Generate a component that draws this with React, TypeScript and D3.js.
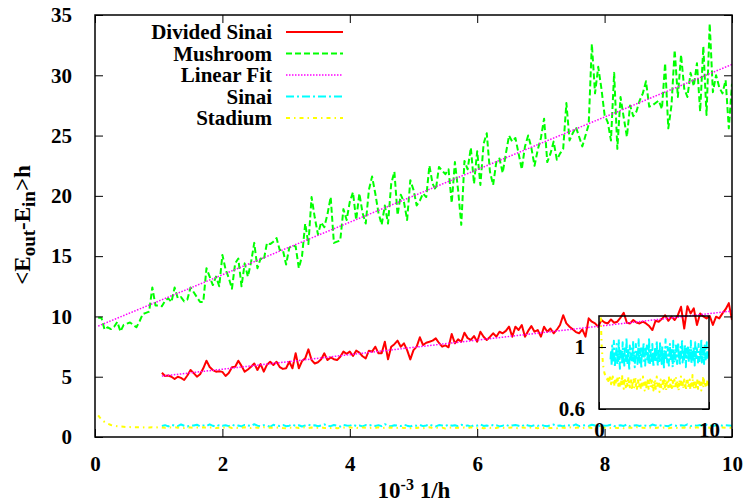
import React, { useEffect, useRef } from "react";
import * as d3 from "d3";

// all curves are sampled every 0.05 (10^-3 1/h)
const step = 0.05;

const mushroomStart = 0.05;
const mushroom = [
  9.9, 9.9, 8.9, 9.1, 8.95, 9.15, 9.55, 8.75, 9.3, 9.4,
  9.5, 9.3, 9.1, 9.6, 10.2, 10.3, 10.4, 12.4, 10.9, 10.9,
  10.85, 11.3, 11.5, 11.2, 12.4, 11.5, 11.6, 11.25, 11.4, 12.4,
  12.0, 11.6, 11.2, 11.2, 14.0, 13.3, 12.6, 13.3, 12.5, 15.1,
  13.9, 13.2, 12.3, 14.4, 14.8, 12.5, 14.4, 13.3, 14.5, 16.1,
  14.0, 14.8, 14.7, 16.1, 16.0, 16.2, 16.5, 15.5, 15.5, 14.3,
  15.7, 15.9, 15.8, 14.0, 15.0, 17.7, 16.0, 19.9,
  18.2, 16.8, 17.8, 17.4, 18.5, 19.9, 16.1, 16.2, 16.3, 18.9,
  18.0, 19.5, 20.3, 18.0, 20.2, 18.6, 17.7, 20.5, 21.6, 20.2,
  18.6, 17.6, 19.2, 17.7, 21.0, 22.0, 18.4, 20.1, 19.5, 18.0,
  21.3, 20.5, 19.2, 19.6, 20.2, 19.9, 22.5, 21.0, 20.5, 22.4,
  22.1, 21.8, 22.2, 19.4, 22.8, 20.5, 17.6, 22.9, 22.2, 24.0,
  21.0, 23.7, 20.9, 24.3, 25.2, 22.0, 20.9, 22.8, 23.1, 21.9,
  23.5, 25.0, 24.5, 24.8, 23.5, 22.2, 24.1, 25.0, 24.0, 22.5,
  23.8, 24.8, 26.4, 22.8, 23.5, 24.5, 23.0, 23.5, 23.9, 27.7,
  24.6, 25.2, 25.7, 24.9, 24.1, 25.0, 25.9, 32.6, 28.5, 30.7,
  28.9, 26.7, 26.1, 24.6, 30.2, 23.9, 28.2, 26.5, 24.9, 27.5,
  26.6, 27.0, 27.9, 28.5, 29.5, 27.4, 27.5, 27.7, 27.9, 27.2,
  31.0, 25.6, 27.5, 32.1, 28.2, 31.7, 28.9, 28.2, 30.2, 29.1,
  31.0, 27.0, 32.4, 26.7, 34.3, 28.6, 30.0, 29.0, 28.5, 29.6,
  25.6, 29.3,
];

const dividedSinaiStart = 1.05;
const dividedSinai = [
  5.33, 5.06, 5.1, 5.0, 4.81, 5.0, 4.9, 4.73, 5.1, 5.56,
  5.3, 5.0, 5.2, 5.7, 6.33, 5.8, 5.55, 5.42, 5.45, 5.4,
  5.06, 5.3, 5.78, 5.83, 6.33, 5.9, 5.42, 5.6, 5.83, 6.1,
  5.56, 6.05, 5.42, 6.0, 6.24, 5.97, 6.24, 5.8, 5.65, 5.7,
  6.24, 5.7, 6.94, 5.7, 6.3, 6.52, 7.27, 6.38, 6.1, 6.2,
  6.44, 6.94, 6.38, 6.6, 6.45, 6.38, 6.66, 7.08, 6.9, 7.08,
  6.72, 7.16, 7.0, 6.7, 6.52, 7.16, 7.08, 7.49, 6.94, 6.94,
  7.9, 6.44, 7.49, 7.7, 7.99, 7.49, 7.77, 7.2, 6.44, 7.2,
  7.49, 8.27, 7.63, 7.82, 7.9, 7.99, 8.18, 7.8, 7.49, 7.6,
  7.44, 8.54, 7.77, 8.1, 7.9, 8.65, 8.2, 8.05, 8.37, 7.9,
  8.73, 8.32, 8.05, 8.3, 8.6, 8.32, 8.73, 8.6, 8.8, 9.15,
  8.32, 9.15, 8.87, 9.29, 8.32, 8.8, 9.2, 8.73, 8.87, 8.32,
  9.15, 8.73, 9.0, 8.6, 8.9, 9.29, 10.1, 9.42, 9.15, 8.93,
  8.7, 8.6, 8.93, 8.32, 9.84, 9.56, 9.42, 9.15, 9.7, 9.5,
  9.42, 9.75, 9.48, 9.56, 9.9, 10.3, 9.48, 9.42, 9.7, 9.5,
  9.42, 9.56, 9.42, 9.2, 8.87, 9.64, 9.56, 9.8, 10.1, 9.64,
  9.98, 9.7, 10.1, 10.8, 9.0, 10.85, 10.25, 10.67, 9.29, 10.25,
  10.0, 9.84, 10.04, 9.29, 9.98, 9.84, 10.25, 10.6, 11.1, 9.7,
];

const sinaiStart = 1.05;
const sinai = [
  0.92, 0.98, 0.88, 1.01, 0.94, 0.9, 1.04, 0.93, 0.87, 0.97, 0.95, 1.02, 0.89, 0.96, 0.91, 1.05, 0.93, 0.86, 0.99, 0.94,
  0.97, 0.9, 1.03, 0.92, 0.95, 0.88, 1.0, 0.96, 0.91, 1.06, 0.94, 0.89, 0.98, 0.93, 0.85, 1.01, 0.95, 0.92, 0.99, 0.9,
  0.94, 1.04, 0.91, 0.97, 0.87, 0.95, 1.02, 0.93, 0.98, 0.89, 0.96, 1.05, 0.92, 0.9, 0.99, 0.94, 0.86, 1.0, 0.95, 0.93,
  1.03, 0.91, 0.96, 0.88, 0.99, 0.94, 1.01, 0.92, 0.97, 0.9, 1.06, 0.93, 0.89, 0.98, 0.95, 0.91, 1.02, 0.94, 0.87, 0.97,
  0.93, 1.0, 0.9, 0.96, 1.04, 0.92, 0.88, 0.99, 0.95, 0.91, 1.03, 0.94, 0.97, 0.89, 1.01, 0.93, 0.96, 0.86, 0.98, 0.94,
  1.05, 0.92, 0.95, 0.9, 1.0, 0.97, 0.88, 0.94, 1.02, 0.91, 0.96, 0.99, 0.93, 0.87, 1.04, 0.95, 0.9, 0.98, 0.92, 1.01,
  0.94, 0.89, 0.97, 1.03, 0.92, 0.95, 0.88, 1.0, 0.96, 0.93, 1.05, 0.9, 0.94, 0.98, 0.91, 1.02, 0.95, 0.87, 0.99, 0.93,
  0.96, 1.01, 0.9, 0.94, 0.98, 0.92, 1.04, 0.89, 0.95, 0.97, 0.91, 1.0, 0.93, 0.88, 1.03, 0.96, 0.92, 0.99, 0.94, 0.9,
  1.02, 0.95, 0.91, 0.98, 0.93, 1.05, 0.9, 0.96, 0.94, 0.99, 0.89, 1.01, 0.95, 0.92, 0.97, 1.03, 0.93, 0.98, 0.96, 0.94,
];

const stadiumStart = 0.05;
const stadium = [
  1.8, 1.45, 1.25, 1.1, 1.0, 0.95, 0.9, 0.87, 0.85, 0.83, 0.82, 0.81, 0.8, 0.8,
  0.79, 0.81, 0.78, 0.8, 0.77, 0.82, 0.79, 0.76, 0.8, 0.78, 0.81, 0.77, 0.79, 0.75, 0.8, 0.78, 0.76, 0.79, 0.77, 0.81,
  0.75, 0.78, 0.8, 0.74, 0.77, 0.79, 0.76, 0.82, 0.75, 0.78, 0.73, 0.77, 0.8, 0.76, 0.74, 0.79, 0.77, 0.75, 0.81, 0.76,
  0.78, 0.74, 0.77, 0.8, 0.75, 0.72, 0.78, 0.76, 0.79, 0.74, 0.77, 0.81, 0.75, 0.78, 0.73, 0.76, 0.8, 0.74, 0.77, 0.75,
  0.79, 0.73, 0.76, 0.78, 0.74, 0.81, 0.75, 0.77, 0.72, 0.79, 0.76, 0.74, 0.78, 0.75, 0.8, 0.73, 0.77, 0.76, 0.79, 0.74,
  0.76, 0.8, 0.74, 0.77, 0.72, 0.78, 0.75, 0.79, 0.73, 0.76, 0.81, 0.74, 0.77, 0.75, 0.78, 0.71, 0.76, 0.79, 0.74, 0.77,
  0.75, 0.78, 0.73, 0.8, 0.76, 0.74, 0.79, 0.72, 0.77, 0.75, 0.78, 0.74, 0.81, 0.76, 0.73, 0.77, 0.79, 0.75, 0.72, 0.78,
  0.76, 0.74, 0.79, 0.77, 0.73, 0.8, 0.75, 0.78, 0.74, 0.76, 0.72, 0.79, 0.77, 0.75, 0.81, 0.74, 0.76, 0.78, 0.73, 0.77,
  0.79, 0.75, 0.77, 0.72, 0.78, 0.76, 0.8, 0.74, 0.77, 0.75, 0.79, 0.73, 0.76, 0.78, 0.74, 0.82, 0.75, 0.77, 0.73, 0.79,
  0.76, 0.74, 0.78, 0.75, 0.8, 0.73, 0.77, 0.79, 0.74, 0.76, 0.78, 0.72, 0.77, 0.75, 0.8, 0.74, 0.79, 0.76, 0.78, 0.75,
  0.77, 0.74, 0.79, 0.76, 0.78, 0.75,
];

// end points of the linear fits
const mushroomFitX = [0.05, 10];
const mushroomFitY = [9.2, 30.9];
const dividedFitX = [1.05, 10];
const dividedFitY = [5.05, 10.45];

const xTicks = [0, 2, 4, 6, 8, 10];
const yTicks = [0, 5, 10, 15, 20, 25, 30, 35];
const insetXTicks = [0, 10];
const insetYTicks = [0.6, 1];

const legendLabels = ["Divided Sinai", "Mushroom", "Linear Fit", "Sinai", "Stadium"];

function App() {
  const svgRef = useRef<SVGSVGElement>(null);
  const width = 746;
  const height = 503;

  useEffect(() => {
    const svg = d3.select(svgRef.current);
    svg.selectAll("*").remove();

    const font = "'Liberation Serif', 'Times New Roman', serif";
    const margin = { top: 15, right: 14, bottom: 66, left: 95 };

    const x = d3.scaleLinear().domain([0, 10]).range([margin.left, width - margin.right]);
    const y = d3.scaleLinear().domain([0, 35]).range([height - margin.bottom, margin.top]);

    // inset box
    const x2 = d3.scaleLinear().domain([0, 10]).range([599, 709]);
    const y2 = d3.scaleLinear().domain([0.6, 1.2]).range([409, 316]);

    const toPoints = (start: number, values: number[]): [number, number][] =>
      values.map((v, i) => [start + i * step, v]);
    const pairs = (xs: number[], ys: number[]): [number, number][] => xs.map((v, i) => [v, ys[i]]);

    const styles = [
      { color: "#ff0000", dash: "none", w: 2 },
      { color: "#00ff00", dash: "6,3", w: 2 },
      { color: "#ff00ff", dash: "1.5,1.5", w: 1.5 },
      { color: "#00ffff", dash: "8,3,2,3", w: 2 },
      { color: "#ffff00", dash: "4,4,1.5,4", w: 2 },
    ];

    const defs = svg.append("defs");
    defs
      .append("clipPath")
      .attr("id", "main-clip")
      .append("rect")
      .attr("x", x(0))
      .attr("y", y(35))
      .attr("width", x(10) - x(0))
      .attr("height", y(0) - y(35));
    defs
      .append("clipPath")
      .attr("id", "inset-clip")
      .append("rect")
      .attr("x", x2(0))
      .attr("y", y2(1.2))
      .attr("width", x2(10) - x2(0))
      .attr("height", y2(0.6) - y2(1.2));

    const drawLine = (g, data, s, xs, ys) =>
      g
        .append("path")
        .datum(data)
        .attr("fill", "none")
        .attr("stroke", s.color)
        .attr("stroke-width", s.w)
        .attr("stroke-dasharray", s.dash)
        .attr("stroke-linejoin", "round")
        .attr(
          "d",
          d3
            .line<[number, number]>()
            .x((d) => xs(d[0]))
            .y((d) => ys(d[1]))
        );

    // Main curves
    const plot = svg.append("g").attr("clip-path", "url(#main-clip)");
    drawLine(plot, toPoints(dividedSinaiStart, dividedSinai), styles[0], x, y);
    drawLine(plot, toPoints(mushroomStart, mushroom), styles[1], x, y);
    drawLine(plot, pairs(mushroomFitX, mushroomFitY), styles[2], x, y);
    drawLine(plot, pairs(dividedFitX, dividedFitY), styles[2], x, y);
    drawLine(plot, toPoints(sinaiStart, sinai), styles[3], x, y);
    drawLine(plot, toPoints(stadiumStart, stadium), styles[4], x, y);

    const boldText = (g) =>
      g
        .attr("font-family", font)
        .attr("font-size", 21)
        .attr("font-weight", "bold")
        .call((g) => g.select(".domain").remove());

    // Axes with inward ticks on all four sides
    svg
      .append("g")
      .attr("transform", `translate(0,${y(0)})`)
      .call(d3.axisBottom(x).tickValues(xTicks).tickSize(-8).tickPadding(19))
      .call(boldText);
    svg
      .append("g")
      .attr("transform", `translate(${x(0)},0)`)
      .call(d3.axisLeft(y).tickValues(yTicks).tickSize(-8).tickPadding(23))
      .call(boldText);
    svg
      .append("g")
      .attr("transform", `translate(0,${y(35)})`)
      .call(d3.axisTop(x).tickValues(xTicks).tickSize(-8).tickFormat(() => ""))
      .call(boldText);
    svg
      .append("g")
      .attr("transform", `translate(${x(10)},0)`)
      .call(d3.axisRight(y).tickValues(yTicks).tickSize(-8).tickFormat(() => ""))
      .call(boldText);
    svg
      .append("rect")
      .attr("x", x(0))
      .attr("y", y(35))
      .attr("width", x(10) - x(0))
      .attr("height", y(0) - y(35))
      .attr("fill", "none")
      .attr("stroke", "#000")
      .attr("stroke-width", 1.5);

    // Legend
    const legend = svg.append("g").attr("font-family", font).attr("font-size", 21).attr("font-weight", "bold");
    legendLabels.forEach((label, i) => {
      const ly = 32 + i * 21.5;
      legend
        .append("text")
        .attr("x", 272)
        .attr("y", ly + 7)
        .attr("text-anchor", "end")
        .text(label);
      legend
        .append("line")
        .attr("x1", 286)
        .attr("x2", 343)
        .attr("y1", ly)
        .attr("y2", ly)
        .attr("stroke", styles[i].color)
        .attr("stroke-width", styles[i].w)
        .attr("stroke-dasharray", styles[i].dash);
    });

    // Axis titles
    const yTitle = svg
      .append("text")
      .attr("transform", `translate(30,225) rotate(-90)`)
      .attr("text-anchor", "middle")
      .attr("font-family", font)
      .attr("font-size", 23)
      .attr("font-weight", "bold");
    yTitle.append("tspan").text("<E");
    yTitle.append("tspan").attr("dy", 5).attr("font-size", 19).text("out");
    yTitle.append("tspan").attr("dy", -5).text("-E");
    yTitle.append("tspan").attr("dy", 5).attr("font-size", 19).text("in");
    yTitle.append("tspan").attr("dy", -5).text(">h");

    const xTitle = svg
      .append("text")
      .attr("x", 414)
      .attr("y", 498)
      .attr("text-anchor", "middle")
      .attr("font-family", font)
      .attr("font-size", 23)
      .attr("font-weight", "bold");
    xTitle.append("tspan").text("10");
    xTitle.append("tspan").attr("dy", -8).attr("font-size", 16).text("-3");
    xTitle.append("tspan").attr("dy", 8).text(" 1/h");

    // Inset: zoom on Sinai and Stadium
    const inset = svg.append("g").attr("clip-path", "url(#inset-clip)");
    drawLine(inset, toPoints(sinaiStart, sinai), styles[3], x2, y2);
    drawLine(inset, toPoints(stadiumStart, stadium), styles[4], x2, y2);

    svg
      .append("g")
      .attr("transform", `translate(0,${y2(0.6)})`)
      .call(d3.axisBottom(x2).tickValues(insetXTicks).tickSize(-7).tickPadding(13))
      .call(boldText);
    svg
      .append("g")
      .attr("transform", `translate(${x2(0)},0)`)
      .call(d3.axisLeft(y2).tickValues(insetYTicks).tickSize(-7).tickPadding(14).tickFormat(d3.format("~g")))
      .call(boldText);
    svg
      .append("g")
      .attr("transform", `translate(${x2(10)},0)`)
      .call(d3.axisRight(y2).tickValues(insetYTicks).tickSize(-7).tickFormat(() => ""))
      .call(boldText);
    svg
      .append("rect")
      .attr("x", x2(0))
      .attr("y", y2(1.2))
      .attr("width", x2(10) - x2(0))
      .attr("height", y2(0.6) - y2(1.2))
      .attr("fill", "none")
      .attr("stroke", "#000")
      .attr("stroke-width", 1.5);
  }, []);

  return (
    <svg
      ref={svgRef}
      width={width}
      height={height}
      style={{ position: "absolute", left: 0, top: 0, background: "#fff" }}
    ></svg>
  );
}

export default App;
